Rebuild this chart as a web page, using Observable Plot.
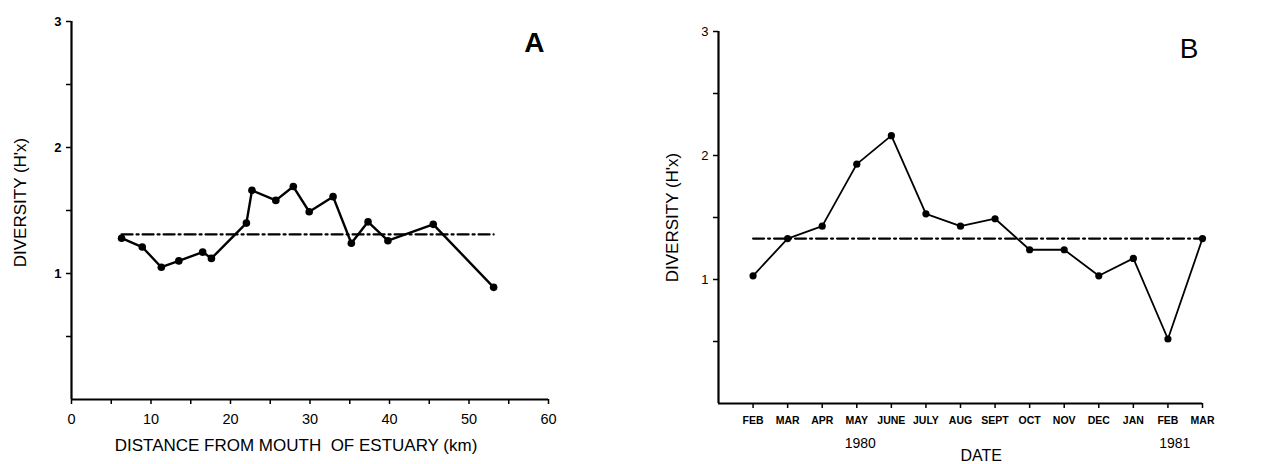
<!DOCTYPE html>
<html><head><meta charset="utf-8">
<script src="https://cdn.jsdelivr.net/npm/d3@7"></script>
<script src="https://cdn.jsdelivr.net/npm/@observablehq/plot@0.6"></script>
<style>
body{margin:0;background:#fff;}
#wrap{position:relative;width:1264px;height:464px;overflow:hidden;background:#fff;}
#a,#b{position:absolute;top:0;}
#a{left:0;} #b{left:632px;}
</style></head><body><div id="wrap"><div id="a"></div><div id="b"></div></div>
<script>
// Panel A: diversity vs distance from mouth of estuary
const distanceKm = [6.3, 8.9, 11.3, 13.5, 16.5, 17.6, 22.0, 22.7, 25.7, 27.9, 29.9, 32.9, 35.2, 37.3, 39.8, 45.5, 53.1];
const diversityA = [1.28, 1.21, 1.05, 1.10, 1.17, 1.12, 1.40, 1.66, 1.58, 1.69, 1.49, 1.61, 1.24, 1.41, 1.26, 1.39, 0.89];
const meanA = 1.31;
const xTicksA = [0, 10, 20, 30, 40, 50, 60];
const xMinorA = [5, 15, 25, 35, 45, 55];
const yTicks = [1, 2, 3];
const yMinor = [0.5, 1.5, 2.5];

// Panel B: diversity by month, Feb 1980 - Mar 1981
const months = ["FEB","MAR","APR","MAY","JUNE","JULY","AUG","SEPT","OCT","NOV","DEC","JAN","FEB","MAR"];
const diversityB = [1.03, 1.33, 1.43, 1.93, 2.16, 1.53, 1.43, 1.49, 1.24, 1.24, 1.03, 1.17, 0.52, 1.33];
const meanB = 1.33;
const years = ["1980", "1981"];
const yearIndex = [3.1, 12.2];

const FONT = "'Liberation Sans', Arial, Helvetica, sans-serif";
const ptsA = distanceKm.map((d, i) => ({x: d, y: diversityA[i]}));
const meanLineA = [{x: distanceKm[0], y: meanA}, {x: distanceKm[distanceKm.length - 1], y: meanA}];

const plotA = Plot.plot({
  width: 632, height: 464,
  marginLeft: 71, marginRight: 84, marginTop: 21, marginBottom: 65,
  style: {fontFamily: FONT, background: "white", color: "black", overflow: "visible"},
  x: {domain: [0, 60]},
  y: {domain: [0, 3]},
  marks: [
    Plot.axisY(yMinor, {tickSize: 5, tickFormat: () => "", strokeWidth: 1.5, label: null}),
    Plot.axisY(yTicks, {tickSize: 5, tickPadding: 5, strokeWidth: 1.5, fontSize: 13, fontWeight: "bold", tickFormat: d => String(d), label: null}),
    Plot.axisX(xMinorA, {tickSize: 5, tickFormat: () => "", strokeWidth: 1.5, label: null}),
    Plot.axisX(xTicksA, {tickSize: 5, tickPadding: 9, strokeWidth: 1.5, fontSize: 14.5, tickFormat: d => String(d), label: null, style: "letter-spacing:1.5px"}),
    Plot.ruleX([0], {y1: 0, y2: 3, strokeWidth: 2.2}),
    Plot.ruleY([0], {x1: 0, x2: 60, strokeWidth: 2.2}),
    Plot.line(meanLineA, {x: "x", y: "y", stroke: "black", strokeWidth: 2.2, strokeDasharray: "11,4,2,4"}),
    Plot.line(ptsA, {x: "x", y: "y", stroke: "black", strokeWidth: 2.4}),
    Plot.dot(ptsA, {x: "x", y: "y", r: 3.8, fill: "black"}),
    Plot.text(["DIVERSITY (H'x)"], {frameAnchor: "left", textAnchor: "middle", lineAnchor: "middle", rotate: -90, dx: -51, dy: -8, fontSize: 17, style: "letter-spacing:0.9px"}),
    Plot.text(["DISTANCE FROM MOUTH  OF ESTUARY (km)"], {frameAnchor: "bottom", dy: 51, dx: -14, fontSize: 17, style: "letter-spacing:1px"}),
    Plot.text(["A"], {frameAnchor: "top-right", dx: -4, dy: 11, fontSize: 28, fontWeight: "bold", textAnchor: "end"})
  ]
});
document.getElementById("a").appendChild(plotA);

const ptsB = months.map((m, i) => ({i, m, y: diversityB[i]}));
const meanLineB = [{i: 0, y: meanB}, {i: months.length - 1, y: meanB}];
const yearLabels = years.map((t, k) => ({t, i: yearIndex[k]}));

const plotB = Plot.plot({
  width: 632, height: 464,
  marginLeft: 86, marginRight: 62, marginTop: 31, marginBottom: 61,
  style: {fontFamily: FONT, background: "white", color: "black", overflow: "visible"},
  x: {domain: [-1, months.length - 1]},
  y: {domain: [0, 3]},
  marks: [
    Plot.axisY(yMinor, {tickSize: 5, tickFormat: () => "", strokeWidth: 1.5, label: null}),
    Plot.axisY(yTicks, {tickSize: 5, tickPadding: 5, strokeWidth: 1.5, fontSize: 13, tickFormat: d => String(d), label: null}),
    Plot.axisX(d3.range(months.length), {tickSize: 5, tickPadding: 8, strokeWidth: 1.5, fontSize: 10.5, fontWeight: "bold", tickFormat: i => months[i], label: null}),
    Plot.ruleX([-1], {y1: 0, y2: 3, strokeWidth: 2.2}),
    Plot.ruleY([0], {x1: -1, x2: months.length - 1, strokeWidth: 2.2}),
    Plot.line(meanLineB, {x: "i", y: "y", stroke: "black", strokeWidth: 2.2, strokeDasharray: "11,4,2,4"}),
    Plot.line(ptsB, {x: "i", y: "y", stroke: "black", strokeWidth: 1.8}),
    Plot.dot(ptsB, {x: "i", y: "y", r: 3.6, fill: "black"}),
    Plot.text(yearLabels, {x: "i", text: "t", frameAnchor: "bottom", dy: 44, fontSize: 14, style: "letter-spacing:1.5px"}),
    Plot.text(["DATE"], {x: [6.6], frameAnchor: "bottom", dy: 57, fontSize: 16}),
    Plot.text(["DIVERSITY (H'x)"], {frameAnchor: "left", textAnchor: "middle", lineAnchor: "middle", rotate: -90, dx: -46, dy: 0, fontSize: 17, style: "letter-spacing:0.9px"}),
    Plot.text(["B"], {frameAnchor: "top-right", dx: -4, dy: 7, fontSize: 28, textAnchor: "end"})
  ]
});
document.getElementById("b").appendChild(plotB);
</script>
</body></html>
